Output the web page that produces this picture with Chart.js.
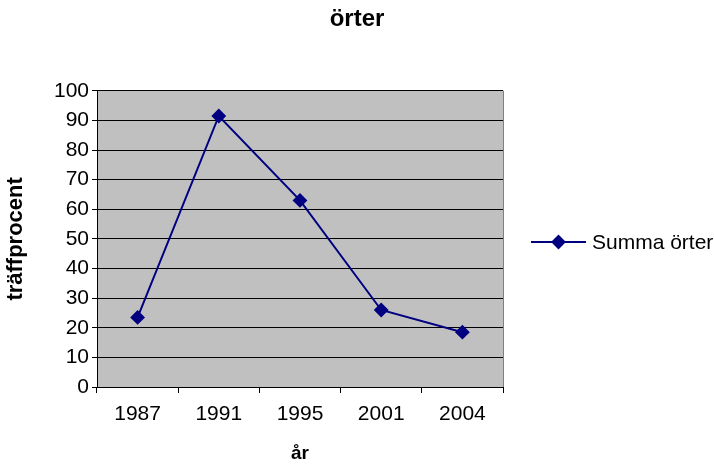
<!DOCTYPE html>
<html>
<head>
<meta charset="utf-8">
<script src="https://cdn.jsdelivr.net/npm/chart.js@4/dist/chart.umd.min.js"></script>
<style>
  html, body { margin: 0; padding: 0; background: #ffffff; }
  #wrap { width: 714px; height: 466px; position: relative; }
</style>
</head>
<body>
<div id="wrap"><canvas id="c" width="714" height="466"></canvas></div>
<script>
// Data
const years = ['1987', '1991', '1995', '2001', '2004'];
const summaOrter = [23.5, 91.5, 63, 26, 18.5];
const seriesName = 'Summa örter';
const chartTitle = 'örter';
const xTitle = 'år';
const yTitle = 'träffprocent';

const FONT = "'Liberation Sans', Arial, sans-serif";
const NAVY = '#000080';

// Grey plot background with a thin grey frame on the open side
const plotBackground = {
  id: 'plotBackground',
  beforeDraw(chart) {
    const { ctx, chartArea: a } = chart;
    ctx.save();
    ctx.fillStyle = '#c0c0c0';
    ctx.fillRect(a.left, a.top, a.right - a.left, a.bottom - a.top);
    ctx.strokeStyle = '#808080';
    ctx.lineWidth = 1;
    ctx.beginPath();
    ctx.moveTo(a.right + 0.5, a.top);
    ctx.lineTo(a.right + 0.5, a.bottom);
    ctx.stroke();
    ctx.restore();
  }
};

// Legend entry: line segment with the series marker, then the label
const sideLegend = {
  id: 'sideLegend',
  afterDraw(chart) {
    const { ctx } = chart;
    const ds = chart.data.datasets[0];
    const y = 242;
    const x0 = 531, x1 = 586;
    ctx.save();
    ctx.strokeStyle = ds.borderColor;
    ctx.lineWidth = ds.borderWidth;
    ctx.beginPath();
    ctx.moveTo(x0, y);
    ctx.lineTo(x1, y);
    ctx.stroke();
    ctx.fillStyle = ds.pointBackgroundColor;
    ctx.strokeStyle = ds.pointBorderColor;
    Chart.helpers.drawPoint(ctx, {
      pointStyle: 'rectRot',
      radius: ds.pointRadius,
      borderWidth: 1
    }, (x0 + x1) / 2, y);
    ctx.fillStyle = '#000';
    ctx.font = '21px ' + FONT;
    ctx.textBaseline = 'middle';
    ctx.textAlign = 'left';
    ctx.fillText(ds.label, 592, y + 1);
    ctx.restore();
  }
};

new Chart(document.getElementById('c'), {
  type: 'line',
  data: {
    labels: years,
    datasets: [{
      label: seriesName,
      data: summaOrter,
      borderColor: NAVY,
      backgroundColor: NAVY,
      borderWidth: 2,
      pointStyle: 'rectRot',
      pointRadius: 6,
      pointBorderColor: NAVY,
      pointBackgroundColor: NAVY,
      tension: 0,
      fill: false
    }]
  },
  options: {
    responsive: false,
    animation: false,
    devicePixelRatio: 1,
    layout: { padding: 0 },
    plugins: {
      legend: { display: false },
      tooltip: { enabled: false },
      title: {
        display: true,
        text: chartTitle,
        color: '#000',
        font: { family: FONT, size: 24, weight: 'bold', lineHeight: 1.2 },
        padding: { top: 5, bottom: 57 }
      }
    },
    scales: {
      x: {
        type: 'category',
        offset: true,
        grid: {
          offset: true,
          drawOnChartArea: false,
          color: '#000',
          tickLength: 6,
          tickColor: '#000'
        },
        border: { color: '#000', width: 1 },
        ticks: {
          color: '#000',
          font: { family: FONT, size: 21 },
          padding: 9,
          maxRotation: 0
        },
        title: {
          display: true,
          text: xTitle,
          color: '#000',
          font: { family: FONT, size: 19, weight: 'bold', lineHeight: 1.2 },
          padding: { top: 0, bottom: 1 }
        },
        afterFit(scale) { scale.height = 79; }
      },
      y: {
        min: 0,
        max: 100,
        ticks: {
          stepSize: 10,
          color: '#000',
          font: { family: FONT, size: 21 },
          padding: 3
        },
        grid: {
          color: '#000',
          tickLength: 5,
          tickColor: '#000'
        },
        border: { color: '#000', width: 1 },
        title: {
          display: true,
          text: yTitle,
          color: '#000',
          font: { family: FONT, size: 22, weight: 'bold', lineHeight: 1.2 },
          padding: { top: 3, bottom: 0 }
        },
        afterFit(scale) { scale.width = 97; }
      },
      // empty right-hand band that holds the legend entry
      legendBand: {
        type: 'linear',
        position: 'right',
        display: true,
        grid: { display: false, drawTicks: false },
        border: { display: false },
        ticks: { display: false },
        afterFit(scale) { scale.width = 211; }
      }
    }
  },
  plugins: [plotBackground, sideLegend]
});
</script>
</body>
</html>
